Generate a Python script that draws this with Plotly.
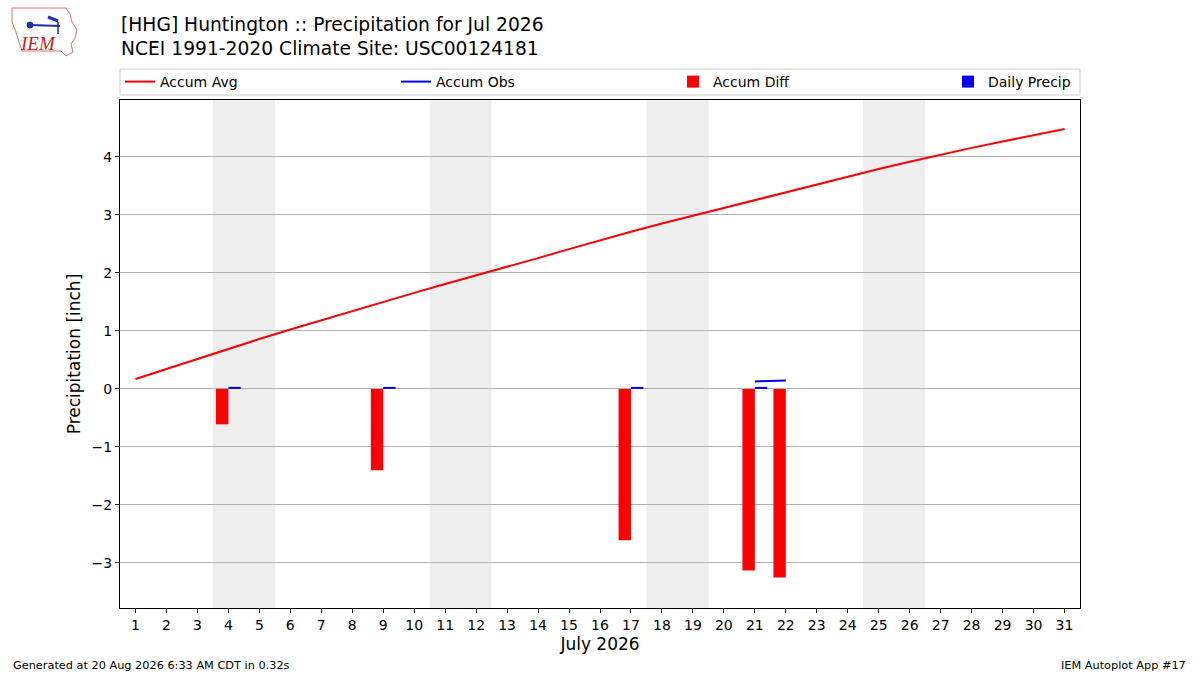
import datetime
import plotly.graph_objects as go

# ---------------- data ----------------
days = list(range(1, 32))
accum_avg = [0.17, 0.345, 0.52, 0.69, 0.86, 1.025, 1.185, 1.345, 1.50, 1.655,
             1.81, 1.955, 2.105, 2.255, 2.41, 2.565, 2.71, 2.85, 2.985, 3.12,
             3.255, 3.39, 3.525, 3.66, 3.79, 3.915, 4.04, 4.155, 4.265, 4.375, 4.48]
obs_days = [21, 22]
accum_obs = [0.13, 0.145]
diff_days = [4, 9, 17, 21, 22]
accum_diff = [-0.61, -1.40, -2.61, -3.13, -3.25]
precip_days = [4, 9, 17, 21]
daily_precip = [0.035, 0.035, 0.035, 0.035]
year, month = 2026, 7
ytick_vals = [-3, -2, -1, 0, 1, 2, 3, 4]

title_lines = ["[HHG] Huntington :: Precipitation for Jul 2026",
               "NCEI 1991-2020 Climate Site: USC00124181"]
footer_left = "Generated at 20 Aug 2026 6:33 AM CDT in 0.32s"
footer_right = "IEM Autoplot App #17"

# ---------------- layout helpers ----------------
W, H = 1200, 675
L, R, T, B = 120, 120, 100, 67
PW, PH = W - L - R, H - T - B
FONT = "DejaVu Sans"


def px(x):
    return (x - L) / PW


def py(y):
    return (H - B - y) / PH


fig = go.Figure()

# weekend shading (Saturday + Sunday as one band)
for d in days:
    if datetime.date(year, month, d).weekday() == 5:
        fig.add_vrect(x0=d - 0.5, x1=min(d + 1, days[-1]) + 0.5, fillcolor="#eeeeee",
                      line_width=0, layer="below")

fig.add_trace(go.Scatter(x=days, y=accum_avg, mode="lines", name="Accum Avg",
                         line=dict(color="red", width=2), legend="legend",
                         showlegend=True))
fig.add_trace(go.Scatter(x=obs_days, y=accum_obs, mode="lines", name="Accum Obs",
                         line=dict(color="blue", width=2), legend="legend2",
                         showlegend=True))
fig.add_trace(go.Bar(x=diff_days, y=accum_diff, name="Accum Diff",
                     marker=dict(color="red", line_width=0), width=0.4, offset=-0.4,
                     legend="legend3", showlegend=True))
fig.add_trace(go.Bar(x=precip_days, y=daily_precip, name="Daily Precip",
                     marker=dict(color="blue", line_width=0), width=0.4, offset=0,
                     legend="legend4", showlegend=True))

leg_common = dict(orientation="h", yanchor="middle", y=py(82), xanchor="left",
                  bgcolor="rgba(0,0,0,0)", borderwidth=0,
                  font=dict(family=FONT, size=14, color="#000"))
legend_x = [px(120), px(396), px(673), px(948)]

fig.update_layout(
    width=W, height=H,
    margin=dict(l=L, r=R, t=T, b=B),
    paper_bgcolor="white", plot_bgcolor="white",
    font=dict(family=FONT, size=14, color="#000"),
    barmode="overlay",
    showlegend=True,
    legend=dict(x=legend_x[0], **leg_common),
    legend2=dict(x=legend_x[1], **leg_common),
    legend3=dict(x=legend_x[2], **leg_common),
    legend4=dict(x=legend_x[3], **leg_common),
    xaxis=dict(range=[0.5, 31.5], tickmode="array", tickvals=days,
               ticktext=[str(d) for d in days], ticks="outside", ticklen=4,
               tickwidth=1, tickcolor="#000", showgrid=False, zeroline=False,
               showline=True, linecolor="#000", linewidth=1, mirror=True,
               tickfont=dict(family=FONT, size=14),
               title=dict(text="July 2026", font=dict(family=FONT, size=17),
                          standoff=6)),
    yaxis=dict(range=[-3.776, 4.98], tickmode="array", tickvals=ytick_vals,
               ticks="outside", ticklen=4, tickwidth=1, tickcolor="#000",
               showgrid=True, gridcolor="#b0b0b0", gridwidth=1, zeroline=False,
               showline=True, linecolor="#000", linewidth=1, mirror=True,
               tickfont=dict(family=FONT, size=14),
               title=dict(text="Precipitation [inch]", font=dict(family=FONT, size=17),
                          standoff=6)),
)

# legend frame
fig.add_shape(type="rect", xref="paper", yref="paper", x0=0, x1=1,
              y0=py(95), y1=py(69), line=dict(color="#cccccc", width=1),
              fillcolor="rgba(0,0,0,0)", layer="above")

# title
fig.add_annotation(text="<br>".join(title_lines), xref="paper", yref="paper",
                   x=px(119), y=py(36), xanchor="left", yanchor="middle",
                   align="left", showarrow=False,
                   font=dict(family=FONT, size=18.7, color="#000"))

# footers
fig.add_annotation(text=footer_left, xref="paper", yref="paper", x=px(11), y=py(665),
                   xanchor="left", yanchor="middle", showarrow=False,
                   font=dict(family=FONT, size=11.3, color="#000"))
fig.add_annotation(text=footer_right, xref="paper", yref="paper", x=px(1188), y=py(665),
                   xanchor="right", yanchor="middle", showarrow=False,
                   font=dict(family=FONT, size=11.3, color="#000"))

# simple logo
outline = [(12, 8), (66, 8), (70, 14), (72, 22), (77, 30), (75, 38), (71, 44),
           (73, 52), (66, 56), (61, 51), (22, 51), (19, 42), (16, 32), (12, 22)]
path = "M " + " L ".join(f"{px(x)},{py(y)}" for x, y in outline) + " Z"
fig.add_shape(type="path", xref="paper", yref="paper", path=path,
              line=dict(color="#e07070", width=1), fillcolor="rgba(0,0,0,0)")
fig.add_shape(type="line", xref="paper", yref="paper", x0=px(30), y0=py(25),
              x1=px(60), y1=py(26), line=dict(color="#1f2fb0", width=2))
fig.add_shape(type="line", xref="paper", yref="paper", x0=px(48), y0=py(17),
              x1=px(58), y1=py(21), line=dict(color="#1f2fb0", width=3))
fig.add_shape(type="line", xref="paper", yref="paper", x0=px(58), y0=py(22),
              x1=px(58), y1=py(34), line=dict(color="#1f2fb0", width=1.5))
fig.add_shape(type="circle", xref="paper", yref="paper", x0=px(27), y0=py(22),
              x1=px(33), y1=py(28), line=dict(color="#1f2fb0", width=1),
              fillcolor="#1f2fb0")
fig.add_annotation(text="<i>IEM</i>", xref="paper", yref="paper", x=px(38), y=py(44),
                   xanchor="center", yanchor="middle", showarrow=False,
                   font=dict(family="Liberation Serif", size=19, color="#d02020"))

fig.write_html("out.html", config={"displayModeBar": False},
               post_script="document.body.style.margin='0';"
                           "document.body.style.padding='0';")
